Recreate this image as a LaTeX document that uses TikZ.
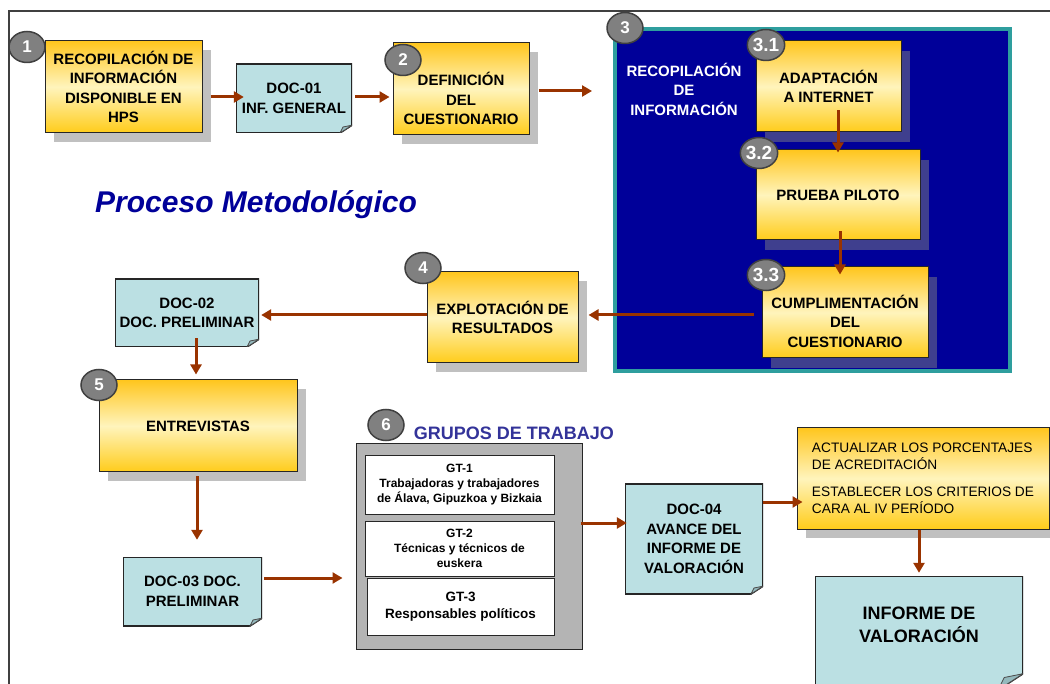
\documentclass[tikz,border=0pt]{standalone}
\usepackage{fontspec}
\setmainfont{Liberation Sans}
\usepackage{tikz}
\usetikzlibrary{shapes.geometric,arrows.meta,positioning,shadows,calc}
\definecolor{flowred}{HTML}{993300}
\definecolor{goldtop}{HTML}{FFC61E}
\definecolor{goldmid}{HTML}{FFF4BC}
\definecolor{goldbot}{HTML}{FFCC1A}
\definecolor{docblue}{HTML}{BBE0E3}
\definecolor{docfold}{HTML}{94B9BD}
\definecolor{navyfill}{HTML}{000099}
\definecolor{tealedge}{HTML}{2E9E9E}
\definecolor{shadowgray}{HTML}{C0C0C0}
\definecolor{shadowblue}{HTML}{3F3F8E}
\definecolor{badgegray}{HTML}{808080}
\definecolor{gtgray}{HTML}{B4B4B4}
\definecolor{grupostxt}{HTML}{333399}
\newcommand{\boxfont}{\fontsize{15}{19.5}\selectfont\bfseries}
\newcommand{\gtfont}{\fontsize{12}{15}\selectfont\bfseries}
\newcommand{\actfont}{\fontsize{13.7}{17.5}\selectfont}

\begin{document}
\begin{tikzpicture}[x=1pt,y=-1pt,
	stepbase/.style={draw=black!85,line width=1pt,top color=goldtop,bottom color=goldbot,middle color=goldmid,align=center,font=\boxfont,inner sep=2pt},
	stepbox/.style={stepbase,drop shadow={shadow xshift=9pt,shadow yshift=-9pt,fill=shadowgray,opacity=1}},
	substep/.style={stepbase,drop shadow={shadow xshift=9pt,shadow yshift=-10pt,fill=shadowblue,opacity=1}},
	docnote/.style={align=center,font=\boxfont,inner sep=2pt,path picture={
		\filldraw[fill=docblue,draw=black!85,line width=1.6pt] (path picture bounding box.north west) -- (path picture bounding box.north east) -- ([yshift={0.65*#1}]path picture bounding box.south east) -- ([xshift=-#1]path picture bounding box.south east) -- (path picture bounding box.south west) -- cycle;
		\filldraw[fill=docfold,draw=black!70,line width=.8pt] ([yshift={0.65*#1}]path picture bounding box.south east) -- ([xshift=-#1]path picture bounding box.south east) -- ([xshift={-0.75*#1},yshift={0.5*#1}]path picture bounding box.south east) -- cycle;}},
	docnote/.default=12pt,
	badge/.style={ellipse,fill=badgegray,draw=black!75,line width=1.5pt,minimum width=36pt,minimum height=31pt,inner sep=0pt,text=white,font=\fontsize{17}{17}\selectfont\bfseries},
	gtitem/.style={draw=black!85,fill=white,line width=1pt,align=center,font=\gtfont},
	flow/.style={draw=flowred,line width=3pt,-{Triangle[length=10pt,width=11pt]}}]
	\clip (0,0) rectangle (1050,684);
	\draw[black!75,line width=1.5pt] (9,684) -- (9,11) -- (1050,11);
	\node[stepbox,minimum width=157pt,minimum height=92pt] (recop) at (123.5,87) {RECOPILACIÓN DE\\INFORMACIÓN\\DISPONIBLE EN\\HPS};
	\node[docnote,minimum width=116pt,minimum height=69pt] (doc01) at (294,98.5) {DOC-01\\INF. GENERAL};
	\node[stepbox,minimum width=136pt,minimum height=92pt] (defin) at (461,89) {\rule{0pt}{33pt}DEFINICIÓN\\DEL\\CUESTIONARIO};
	\node[draw=tealedge,line width=4pt,fill=navyfill,minimum width=395pt,minimum height=342pt] (recinf) at (812.5,200) {};
	\node[align=center,font=\boxfont,text=white] (recinftxt) at (684,89) {RECOPILACIÓN\\DE\\INFORMACIÓN};
	\node[substep,minimum width=145pt,minimum height=91pt] (adapt) at (828.5,86.5) {ADAPTACIÓN\\A INTERNET};
	\node[substep,minimum width=164pt,minimum height=90pt] (prueba) at (838,195) {PRUEBA PILOTO};
	\node[substep,minimum width=166pt,minimum height=91pt] (cumpl) at (845,312.5) {\rule{0pt}{31pt}CUMPLIMENTACIÓN\\DEL\\CUESTIONARIO};
	\node[stepbox,minimum width=151pt,minimum height=91pt] (explot) at (502.5,317.5) {EXPLOTACIÓN DE\\RESULTADOS};
	\node[docnote,minimum width=144pt,minimum height=68pt] (doc02) at (187,313) {DOC-02\\DOC. PRELIMINAR};
	\node[stepbox,minimum width=198pt,minimum height=92pt] (entrev) at (198,426) {ENTREVISTAS};
	\node[docnote,minimum width=139pt,minimum height=69pt] (doc03) at (192.5,591.5) {DOC-03 DOC.\\PRELIMINAR};
	\node[draw=black!85,line width=1pt,fill=gtgray,minimum width=226pt,minimum height=205pt] (grupos) at (469,546.5) {};
	\node[font=\fontsize{18}{18}\selectfont\bfseries,text=grupostxt] (grupostit) at (514,433) {GRUPOS DE TRABAJO};
	\node[gtitem,minimum width=189pt,minimum height=58pt] (gt1) at (459.5,485) {GT-1\\Trabajadoras y trabajadores\\de Álava, Gipuzkoa y Bizkaia};
	\node[gtitem,minimum width=189pt,minimum height=55pt] (gt2) at (459.5,548.5) {GT-2\\Técnicas y técnicos de\\euskera};
	\node[gtitem,minimum width=187pt,minimum height=57pt,font=\fontsize{13.5}{17}\selectfont\bfseries] (gt3) at (460.5,606.5) {GT-3\\Responsables políticos};
	\node[docnote,minimum width=138pt,minimum height=110pt] (doc04) at (694,539) {DOC-04\\AVANCE DEL\\INFORME DE\\VALORACIÓN};
	\node[stepbox,minimum width=252pt,minimum height=101pt,align=left,font=\actfont] (acciones) at (923,478.5) {ACTUALIZAR LOS PORCENTAJES\\DE ACREDITACIÓN\\[9pt]ESTABLECER LOS CRITERIOS DE\\CARA AL IV PERÍODO};
	\node[docnote=25pt,minimum width=208pt,minimum height=114pt,font=\fontsize{18}{23}\selectfont\bfseries] (informe) at (919,633) {INFORME DE\\VALORACIÓN\rule[-17pt]{0pt}{17pt}};
	\node[anchor=west,inner sep=0pt,font=\fontsize{30}{30}\selectfont\bfseries\itshape,text=navyfill] (titulo) at (95,205) {Proceso Metodológico};
	\foreach \nm/\px/\py/\t in {n1/27/47/1,n2/403/60/2,n3/625/28/3,n4/423/268/4,n5/99/385/5,n6/386/425/6}
		\node[badge] (\nm) at (\px,\py) {\t};
	\foreach \nm/\px/\py/\t in {n31/766/45/3.1,n32/759/153/3.2,n33/766/275/3.3}
		\node[badge,font=\fontsize{19}{19}\selectfont\bfseries] (\nm) at (\px,\py) {\t};
	\coordinate (recin) at (592,91);
	\draw[flow] ($(recop.east |- doc01.west)+(8,-1.5)$) -- ($(doc01.west)+(8,-1.5)$);
	\draw[flow] ($(doc01.east)+(3,-1.5)$) -- ($(doc01.east -| defin.west)+(-3,-1.5)$);
	\draw[flow] ($(defin.east)+(9,2)$) -- (recin);
	\draw[flow] ($(adapt.south -| prueba.north)+(0,-22)$) -- ($(prueba.north)+(0,3)$);
	\draw[flow] ($(prueba.south)+(2,-9)$) -- ($(prueba.south |- cumpl.north)+(2,8)$);
	\draw[flow] ($(cumpl.west)+(-8,2.5)$) -- ($(explot.east)+(10,-2.5)$);
	\draw[flow] ($(explot.west)+(0,-2.5)$) -- ($(explot.west -| doc02.east)+(2,-2.5)$);
	\draw[flow] ($(doc02.south -| entrev.north)+(-2,-9)$) -- ($(entrev.north)+(-2,-5)$);
	\draw[flow] ($(entrev.south)+(-1,4)$) -- ($(doc03.north -| entrev.south)+(-1,-17)$);
	\draw[flow] ($(doc03.east)+(2,-13.5)$) -- ($(doc03.east -| grupos.west)+(-13,-13.5)$);
	\draw[flow] ($(grupos.east)+(-2,-23.5)$) -- ($(grupos.east -| doc04.west)+(2,-23.5)$);
	\draw[flow] ($(doc04.east)+(0,-37)$) -- ($(doc04.east -| acciones.west)+(6,-37)$);
	\draw[flow] (acciones.south -| informe.north) -- ($(informe.north)+(0,-3)$);
\end{tikzpicture}
\end{document}
